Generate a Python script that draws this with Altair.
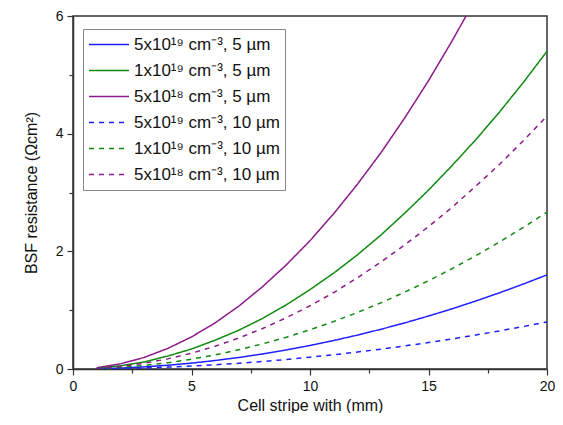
import altair as alt
import pandas as pd

x_vals = list(range(1, 21))
labels = [
    "5x10¹⁹ cm⁻³, 5 µm",
    "1x10¹⁹ cm⁻³, 5 µm",
    "5x10¹⁸ cm⁻³, 5 µm",
    "5x10¹⁹ cm⁻³, 10 µm",
    "1x10¹⁹ cm⁻³, 10 µm",
    "5x10¹⁸ cm⁻³, 10 µm",
]
blue_5 = [0.004, 0.016, 0.036, 0.064, 0.10, 0.144, 0.196, 0.256, 0.324, 0.40,
          0.484, 0.576, 0.676, 0.784, 0.90, 1.024, 1.156, 1.296, 1.444, 1.60]
green_5 = [0.0135, 0.054, 0.12, 0.22, 0.34, 0.49, 0.66, 0.86, 1.09, 1.35,
           1.63, 1.94, 2.28, 2.65, 3.04, 3.46, 3.90, 4.37, 4.87, 5.40]
purple_5 = [0.022, 0.087, 0.196, 0.35, 0.545, 0.785, 1.07, 1.40, 1.77, 2.18,
            2.64, 3.14, 3.68, 4.27, 4.90, 5.58, 6.30]
blue_10 = [0.002, 0.008, 0.018, 0.032, 0.05, 0.072, 0.098, 0.128, 0.162, 0.20,
           0.242, 0.288, 0.338, 0.392, 0.45, 0.512, 0.578, 0.648, 0.722, 0.80]
green_10 = [0.0067, 0.027, 0.06, 0.107, 0.167, 0.24, 0.327, 0.427, 0.54, 0.667,
            0.807, 0.96, 1.127, 1.307, 1.50, 1.707, 1.927, 2.16, 2.407, 2.667]
purple_10 = [0.011, 0.043, 0.097, 0.172, 0.269, 0.387, 0.527, 0.688, 0.871, 1.075,
             1.30, 1.55, 1.82, 2.11, 2.42, 2.75, 3.11, 3.48, 3.88, 4.30]
series = [blue_5, green_5, purple_5, blue_10, green_10, purple_10]
colors = ["#1f1fff", "#108a10", "#8b1a8b", "#1f1fff", "#108a10", "#8b1a8b"]
dashes = [[1, 0], [1, 0], [1, 0], [5, 5], [5, 5], [5, 5]]

rows = []
for lab, vals in zip(labels, series):
    for xv, yv in zip(x_vals, vals):
        rows.append({"x": xv, "y": yv, "s": lab})
df = pd.DataFrame(rows)

font = "Liberation Sans"
chart = alt.Chart(df).mark_line(strokeWidth=1.5, clip=True).encode(
    x=alt.X("x:Q", scale=alt.Scale(domain=[0, 20], nice=False),
            axis=alt.Axis(title="Cell stripe with (mm)",
                          values=[0, 2.5, 5, 7.5, 10, 12.5, 15, 17.5, 20],
                          labelExpr="datum.value % 5 === 0 ? datum.label : ''",
                          tickSize={"condition": {"test": "datum.value % 5 === 0", "value": 6}, "value": 4},
                          grid=False, labelFlush=False, titlePadding=4)),
    y=alt.Y("y:Q", scale=alt.Scale(domain=[0, 6], nice=False),
            axis=alt.Axis(title="BSF resistance (Ωcm²)",
                          values=[0, 1, 2, 3, 4, 5, 6],
                          labelExpr="datum.value % 2 === 0 ? datum.label : ''",
                          tickSize={"condition": {"test": "datum.value % 2 === 0", "value": 6}, "value": 4},
                          grid=False, labelFlush=False, titlePadding=16)),
    color=alt.Color("s:N", scale=alt.Scale(domain=labels, range=colors),
                    legend=alt.Legend(title=None)),
    strokeDash=alt.StrokeDash("s:N", scale=alt.Scale(domain=labels, range=dashes),
                              legend=alt.Legend(title=None)),
).properties(
    width=474, height=353,
    autosize=alt.AutoSizeParams(type="none"),
    padding={"left": 65, "top": 8, "right": 8, "bottom": 44},
).configure_view(
    stroke="#333333", strokeWidth=1.5
).configure_axis(
    domainColor="#333333", tickColor="#333333", domainWidth=1.5, tickWidth=1.2,
    labelFont=font, titleFont=font, labelFontSize=14, titleFontSize=16,
    labelColor="#111111", titleColor="#111111", titleFontWeight="normal",
    labelPadding=4,
).configure_legend(
    orient="none", legendX=10, legendY=13,
    strokeColor="#888888", fillColor="white", padding=5,
    symbolType="stroke", symbolSize=1600, symbolStrokeWidth=1.5,
    labelFont=font, labelFontSize=17, labelColor="#111111", labelOffset=4,
    rowPadding=5, clipHeight=21, labelLimit=300,
)

chart.save("out.html", embed_options={"renderer": "svg", "actions": False})
